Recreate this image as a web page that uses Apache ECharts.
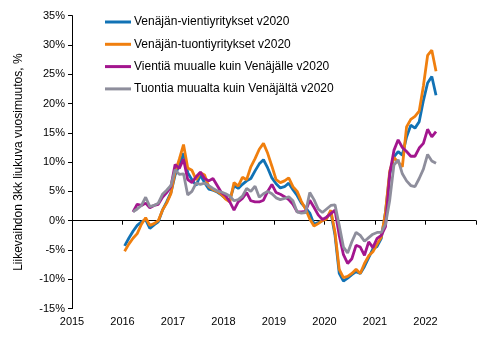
<!DOCTYPE html>
<html><head><meta charset="utf-8">
<script src="https://cdn.jsdelivr.net/npm/echarts@6/dist/echarts.min.js"></script>
<style>html,body{margin:0;padding:0;background:#fff}#c{width:491px;height:340px}</style>
</head><body><div id="c"></div>
<script>
// Monthly observations Jan 2016 .. Mar 2022
var startYear = 2016, startMonth = 1, monthCount = 75;
var seriesNames = ['Venäjän-vientiyritykset v2020','Venäjän-tuontiyritykset v2020','Vientiä muualle kuin Venäjälle v2020','Tuontia muualta kuin Venäjältä v2020'];
var xTickLabels = ['2015','2016','2017','2018','2019','2020','2021','2022'];
var yTickLabels = ['-15%','-10%','-5%','0%','5%','10%','15%','20%','25%','30%','35%'];
var vientiVenaja = [-4.3,-3.0,-1.8,-0.8,-0.2,0.2,-1.3,-0.7,-0.2,1.8,3.2,4.8,7.8,9.5,11.5,8.2,7.0,6.0,7.8,6.5,5.4,5.2,4.9,4.4,3.8,3.5,6.0,5.5,6.2,6.8,7.2,8.5,9.7,10.4,9.0,7.3,6.3,5.6,5.8,6.4,5.3,4.3,3.0,2.2,1.3,-0.6,-0.3,0.0,0.5,1.5,-2.5,-9.0,-10.3,-9.8,-9.2,-8.7,-9.0,-7.8,-6.3,-4.8,-4.4,-3.0,1.5,8.0,10.9,11.8,11.2,14.3,16.3,15.8,16.9,20.5,23.5,24.6,21.4];
var tuontiVenaja = [-5.2,-4.0,-3.0,-2.2,-0.6,0.5,-0.8,-0.5,0.0,1.8,3.0,4.6,8.3,10.5,13.0,9.0,8.6,7.0,8.2,7.8,5.8,5.3,5.0,4.5,3.7,3.2,6.5,5.9,7.4,7.0,9.2,10.6,12.2,13.2,11.5,9.3,7.0,6.5,6.8,7.3,5.8,5.0,3.3,2.0,0.3,-0.9,-0.5,0.0,0.3,1.8,-2.0,-8.3,-9.7,-9.5,-9.0,-8.3,-9.0,-7.3,-6.0,-5.3,-4.0,-2.8,1.5,8.5,10.8,10.0,9.2,16.0,17.3,17.8,18.7,23.0,28.2,29.1,25.5];
var vientiMuu = [null,null,1.5,2.8,2.6,3.0,2.2,2.6,2.8,4.0,4.8,5.8,9.6,8.9,10.5,7.0,6.5,7.5,8.3,7.2,6.8,7.2,6.0,4.8,4.3,3.2,1.8,3.2,3.8,4.8,3.4,3.2,3.2,3.5,5.0,6.2,4.8,4.5,4.1,3.6,2.8,1.5,1.5,1.6,3.5,2.3,1.0,0.2,0.6,1.2,1.8,-2.5,-5.8,-7.3,-6.5,-4.2,-4.5,-5.9,-3.6,-4.6,-3.0,-2.5,-1.0,8.0,12.0,13.8,12.5,11.8,11.0,11.0,12.4,13.2,15.6,14.3,15.2];
var tuontiMuu = [null,null,1.5,2.0,2.6,4.0,2.4,2.6,3.0,4.5,5.2,6.0,8.7,7.9,8.0,4.4,5.0,6.4,6.2,6.4,6.0,5.5,5.1,4.9,4.6,4.2,3.4,3.6,4.2,5.5,5.0,5.9,4.0,4.6,5.0,4.6,3.9,3.6,3.8,4.1,3.4,1.5,1.3,1.4,4.8,3.6,2.0,1.4,2.0,2.6,2.7,-0.8,-4.5,-5.5,-3.6,-2.0,-2.5,-3.5,-2.9,-2.3,-2.0,-2.0,-0.6,3.5,9.5,10.4,8.0,6.8,6.0,5.8,7.2,8.8,11.3,10.2,9.8];
var colors = ['#1172B5','#F07F0E','#A3168E','#8E8E9C'];

var xs = [];
for (var i = 0; i < monthCount; i++) { xs.push(startYear + (startMonth - 1 + i + 0.5) / 12); }
function pairs(v){ return v.map(function(y,i){ return [xs[i], y]; }); }
var allVals = [vientiVenaja, tuontiVenaja, vientiMuu, tuontiMuu];
var font = 'Liberation Sans, Arial, sans-serif';

var chart = echarts.init(document.getElementById('c'), null, {renderer:'canvas'});
chart.setOption({
  animation: false,
  color: colors,
  grid: {left: 72, right: 15, top: 15.6, bottom: 31.4, containLabel: false},
  legend: {
    orient: 'vertical', left: 100, top: 11, itemWidth: 26, itemHeight: 3, itemGap: 10.3,
    icon: 'rect', data: seriesNames,
    textStyle: {fontFamily: font, fontSize: 12, color: '#000', padding: [0,0,0,-2]}
  },
  xAxis: [{
    type: 'value', min: 2015, max: 2023, interval: 1, position: 'bottom',
    axisLine: {show: false, onZero: false}, axisTick: {show: false}, splitLine: {show: false},
    axisLabel: {fontFamily: font, fontSize: 11, color: '#000', margin: 8,
      formatter: function(v){ var k = Math.round(v) - 2015; return xTickLabels[k] || ''; }}
  },{
    type: 'value', min: 2015, max: 2023, interval: 1, position: 'bottom',
    axisLine: {show: true, onZero: true, lineStyle: {color: '#000', width: 1}},
    axisTick: {show: true, length: 4, lineStyle: {color: '#000'}},
    axisLabel: {show: false}, splitLine: {show: false}
  }],
  yAxis: {
    type: 'value', min: -15, max: 35, interval: 5,
    name: 'Liikevaihdon 3kk liukuva vuosimuutos, %', nameLocation: 'middle', nameGap: 47,
    nameTextStyle: {fontFamily: font, fontSize: 12, color: '#000'},
    axisLine: {show: true, lineStyle: {color: '#000', width: 1}},
    axisTick: {show: true, length: 4, lineStyle: {color: '#000'}},
    splitLine: {show: false},
    axisLabel: {fontFamily: font, fontSize: 11, color: '#000', margin: 7,
      formatter: function(v){ var k = Math.round((v + 15) / 5); return yTickLabels[k] || ''; }}
  },
  series: seriesNames.map(function(n, k){
    return {name: n, type: 'line', xAxisIndex: 0, data: pairs(allVals[k]), showSymbol: false, symbol: 'none',
      lineStyle: {width: 2.8, color: colors[k]}, itemStyle: {color: colors[k]}, connectNulls: false};
  })
});
</script></body></html>
